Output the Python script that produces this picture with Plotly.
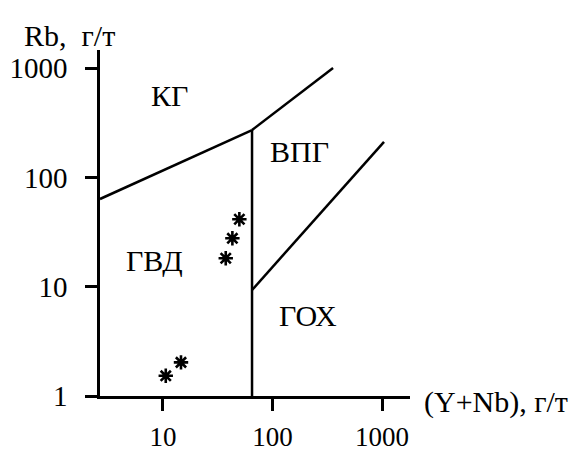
import math
import plotly.graph_objects as go

# Boundary lines (Y+Nb, Rb) in g/t
left_x = [2.66, 65]
left_y = [63.4, 271]
upper_x = [65, 234, 357]
upper_y = [271, 731, 1002]
vert_x = [65, 65]
vert_y = [1, 271]
lower_x = [65, 1042]
lower_y = [9.33, 211]

# Sample points
pts_x = [49.8, 43.0, 37.4, 10.6, 14.6]
pts_y = [41.4, 27.7, 18.2, 1.53, 2.03]

# Field labels
field_names = ["КГ", "ВПГ", "ГВД", "ГОХ"]
field_x = [11.5, 178, 8.28, 211]
field_y = [560, 174, 17.5, 5.4]

x_ticks = [10, 100, 1000]
y_ticks = [1, 10, 100, 1000]

FONT = "Liberation Serif, Times New Roman, serif"
line_style = dict(color="black", width=2.5)

fig = go.Figure()
for xs, ys in [(left_x, left_y), (upper_x, upper_y), (vert_x, vert_y), (lower_x, lower_y)]:
    fig.add_trace(go.Scatter(x=xs, y=ys, mode="lines", line=line_style,
                             hoverinfo="skip", showlegend=False))

fig.add_trace(go.Scatter(x=pts_x, y=pts_y, mode="markers",
                         marker=dict(symbol="asterisk", size=12, color="black",
                                     line=dict(color="black", width=2.6)),
                         showlegend=False))

for name, fx, fy in zip(field_names, field_x, field_y):
    fig.add_annotation(x=math.log10(fx), y=math.log10(fy), xref="x", yref="y",
                       text=name, showarrow=False,
                       font=dict(family=FONT, size=30, color="black"))

fig.add_annotation(x=-0.1, y=1.043, xref="paper", yref="paper", text="Rb,  г/т",
                   showarrow=False, xanchor="center", yanchor="middle",
                   font=dict(family=FONT, size=30, color="black"))
fig.add_annotation(x=1.277, y=-0.017, xref="paper", yref="paper", text="(Y+Nb), г/т",
                   showarrow=False, xanchor="center", yanchor="middle",
                   font=dict(family=FONT, size=30, color="black"))

axis_common = dict(type="log", showline=True, linecolor="black", linewidth=2.5,
                   ticks="outside", ticklen=12, tickwidth=2.5, tickcolor="black",
                   showgrid=False, zeroline=False, automargin=False)

fig.update_layout(
    width=581, height=455,
    margin=dict(l=100, r=171, t=50, b=59),
    paper_bgcolor="white", plot_bgcolor="white",
    xaxis=dict(range=[0.425, 3.255], tickvals=x_ticks,
               ticktext=[str(v) for v in x_ticks], ticklabelstandoff=3,
               tickfont=dict(family=FONT, size=27, color="black"),
               **axis_common),
    yaxis=dict(range=[0, 3.165], tickvals=y_ticks,
               ticktext=[str(v) for v in y_ticks], ticklabelstandoff=12,
               tickfont=dict(family=FONT, size=29, color="black"),
               **axis_common),
)

fig.write_html("out.html")
